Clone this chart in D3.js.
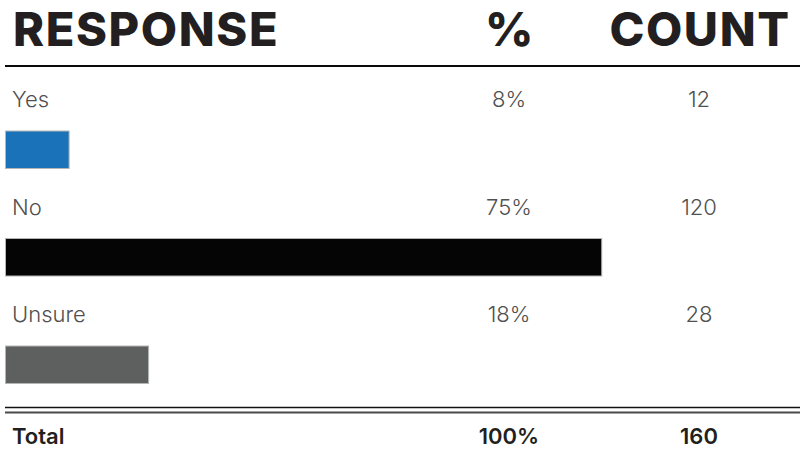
<!DOCTYPE html>
<html>
<head>
<meta charset="utf-8">
<script src="https://cdn.jsdelivr.net/npm/d3@7"></script>
<style>
  html, body { margin: 0; padding: 0; background: #fff; }
  svg { display: block; }
  text { font-family: Inter, "Open Sans", sans-serif; }
</style>
</head>
<body>
<svg id="chart" width="803" height="459"></svg>
<script>
// Survey responses
const responses = ["Yes", "No", "Unsure"];
const percents = [8, 75, 18];
const counts = [12, 120, 28];
const barColors = ["#1a73b9", "#050505", "#5e605f"];
const headers = ["RESPONSE", "%", "COUNT"];
const totalLabel = "Total";
const totalPercent = 100;
const totalCount = 160;

const left = 5, right = 800;
const pctX = 509, countX = 699, labelX = 12;
const step = 107.5;

const svg = d3.select("#chart");

// bar length scale: percentage share of the full table width
const x = d3.scaleLinear().domain([0, 100]).range([left, right]);

// header
const hdr = svg.append("g").attr("font-weight", 800).attr("font-size", 47)
  .attr("fill", "#231f20").attr("letter-spacing", 1.6);
hdr.append("text").attr("x", labelX + 1).attr("y", 46).text(headers[0]);
hdr.append("text").attr("x", pctX + 1).attr("y", 46).attr("text-anchor", "middle").text(headers[1]);
hdr.append("text").attr("x", countX + 1).attr("y", 46).attr("text-anchor", "middle").text(headers[2]);

svg.append("line").attr("x1", left).attr("x2", right).attr("y1", 66).attr("y2", 66)
  .attr("stroke", "#0a0a0a").attr("stroke-width", 2.2);

const rows = svg.append("g").selectAll("g").data(responses).join("g")
  .attr("transform", (d, i) => `translate(0,${i * step})`);

const rowText = sel => sel.attr("y", 107).attr("font-size", 22)
  .attr("font-weight", 300).attr("fill", "#505050");

rows.append("text").call(rowText).attr("x", labelX).text(d => d);
rows.append("text").call(rowText).attr("x", pctX).attr("text-anchor", "middle")
  .text((d, i) => percents[i] + "%");
rows.append("text").call(rowText).attr("x", countX).attr("text-anchor", "middle")
  .text((d, i) => counts[i]);

rows.append("rect")
  .attr("x", x(0) + 0.5).attr("y", 131)
  .attr("width", (d, i) => x(percents[i]) - x(0))
  .attr("height", 37.5)
  .attr("fill", (d, i) => barColors[i])
  .attr("stroke", "#b5b5b5").attr("stroke-width", 1);

// double rule above the total
svg.append("line").attr("x1", left).attr("x2", right).attr("y1", 407.5).attr("y2", 407.5)
  .attr("stroke", "#111").attr("stroke-width", 1.6);
svg.append("line").attr("x1", left).attr("x2", right).attr("y1", 412.5).attr("y2", 412.5)
  .attr("stroke", "#4a4a4a").attr("stroke-width", 1.8);

// total row
const tot = svg.append("g").attr("font-size", 22).attr("font-weight", 600).attr("fill", "#231f20");
tot.append("text").attr("x", labelX).attr("y", 444).text(totalLabel);
tot.append("text").attr("x", pctX).attr("y", 444).attr("text-anchor", "middle").text(totalPercent + "%");
tot.append("text").attr("x", countX).attr("y", 444).attr("text-anchor", "middle").text(totalCount);
</script>
</body>
</html>
